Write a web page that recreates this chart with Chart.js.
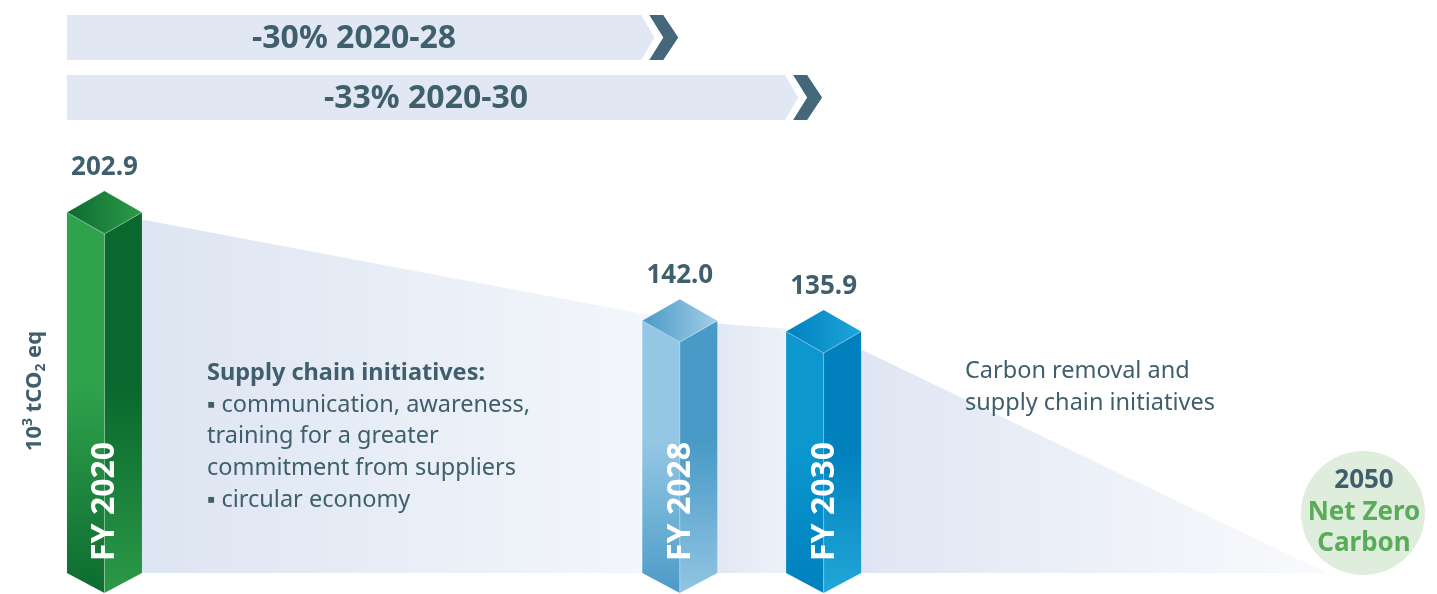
<!DOCTYPE html>
<html>
<head>
<meta charset="utf-8">
<script src="https://cdn.jsdelivr.net/npm/chart.js@4/dist/chart.umd.min.js"></script>
<style>
  body { margin: 0; background: #fff; }
  canvas { display: block; }
</style>
</head>
<body>
<canvas id="emissions" width="1437" height="594"></canvas>
<script>
// timeline slots (one per year up to 2030, then a compressed gap to 2050)
var timeline = ['2020', '2021', '2022', '2023', '2024', '2025', '2026', '2027', '2028', '2029', '2030',
                '', '', '', '', '', '', '2050'];

var pathYears = ['2020', '2028', '2030', '2050'];
var pathValues = [202.9, 142.0, 135.9, 0];

var barYears = ['2020', '2028', '2030'];
var barValues = [202.9, 142.0, 135.9];
var barLabels = ['FY 2020', 'FY 2028', 'FY 2030'];

var targetLabels = ['-30% 2020-28', '-33% 2020-30'];
var targetYears = ['2028', '2030'];

var supplyNotes = ['Supply chain initiatives:', '\u25AA communication, awareness,', 'training for a greater',
                   'commitment from suppliers', '\u25AA circular economy'];
var removalNotes = ['Carbon removal and', 'supply chain initiatives'];
var goalLines = ['2050', 'Net Zero', 'Carbon'];

var INK = '#3f5f6c';
var FONT = '"Noto Sans", "Open Sans", sans-serif';

var palettes = [
    { left: ['#30a24c', '#0d6b30'], right: ['#0a672d', '#2b9a48'], top: ['#0c6a2f', '#2c9c4a'] },
    { left: ['#93c7e3', '#4b9bc8'], right: ['#4a9ac7', '#92c5e2'], top: ['#4a9ac7', '#a3cfe6'] },
    { left: ['#0c97cf', '#0080bd'], right: ['#0080bd', '#22a7d8'], top: ['#0080bf', '#1ea6d8'] }
];

function px(chart, year) {
    return chart.scales.x.getPixelForValue(timeline.indexOf(year));
}

function fillGradient(c) {
    var chart = c.chart, a = chart.chartArea;
    if (!a) return '#e2e9f4';
    var g = chart.ctx.createLinearGradient(a.left, 0, a.right, 0);
    function stop(p, col) {
        g.addColorStop(Math.min(1, Math.max(0, (p - a.left) / (a.right - a.left))), col);
    }
    stop(px(chart, '2020') + 37, '#dde5f2');
    stop(px(chart, '2028') - 38, '#f3f6fb');
    stop(px(chart, '2028') + 38, '#e2e8f4');
    stop(px(chart, '2030') - 38, '#edf1f8');
    stop(px(chart, '2030') + 38, '#dfe6f3');
    stop(px(chart, '2050') - 30, '#f8f9fc');
    return g;
}

function drawPrism(ctx, cx, top, base, hw, pal) {
    var d = 21.5, tip = 20;
    var g;
    // left face
    g = ctx.createLinearGradient(0, top, 0, base + tip);
    g.addColorStop(0, pal.left[0]); g.addColorStop(0.45, pal.left[0]); g.addColorStop(1, pal.left[1]);
    ctx.fillStyle = g;
    ctx.beginPath();
    ctx.moveTo(cx - hw, top); ctx.lineTo(cx, top + d); ctx.lineTo(cx, base + tip); ctx.lineTo(cx - hw, base);
    ctx.closePath(); ctx.fill();
    // right face
    g = ctx.createLinearGradient(0, top, 0, base + tip);
    g.addColorStop(0, pal.right[0]); g.addColorStop(0.45, pal.right[0]); g.addColorStop(1, pal.right[1]);
    ctx.fillStyle = g;
    ctx.beginPath();
    ctx.moveTo(cx, top + d); ctx.lineTo(cx + hw, top); ctx.lineTo(cx + hw, base); ctx.lineTo(cx, base + tip);
    ctx.closePath(); ctx.fill();
    // top face
    g = ctx.createLinearGradient(cx - hw, 0, cx + hw, 0);
    g.addColorStop(0, pal.top[0]); g.addColorStop(1, pal.top[1]);
    ctx.fillStyle = g;
    ctx.beginPath();
    ctx.moveTo(cx - hw, top); ctx.lineTo(cx, top - d); ctx.lineTo(cx + hw, top); ctx.lineTo(cx, top + d);
    ctx.closePath(); ctx.fill();
    // soft highlight on front edges
    ctx.strokeStyle = 'rgba(255,255,255,0.3)';
    ctx.lineWidth = 1;
    ctx.beginPath();
    ctx.moveTo(cx - hw, top); ctx.lineTo(cx, top + d); ctx.lineTo(cx + hw, top);
    ctx.moveTo(cx, top + d); ctx.lineTo(cx, base + tip);
    ctx.stroke();
}

function drawArrow(ctx, x0, tip, yTop, yBot, label) {
    var mid = (yTop + yBot) / 2;
    ctx.fillStyle = '#e1e8f4';
    ctx.beginPath();
    ctx.moveTo(x0, yTop); ctx.lineTo(tip - 37, yTop); ctx.lineTo(tip - 24, mid);
    ctx.lineTo(tip - 37, yBot); ctx.lineTo(x0, yBot);
    ctx.closePath(); ctx.fill();
    ctx.fillStyle = '#44687a';
    ctx.beginPath();
    ctx.moveTo(tip - 29, yTop); ctx.lineTo(tip - 15, yTop); ctx.lineTo(tip, mid);
    ctx.lineTo(tip - 15, yBot); ctx.lineTo(tip - 29, yBot); ctx.lineTo(tip - 15, mid);
    ctx.closePath(); ctx.fill();
    ctx.fillStyle = INK;
    ctx.font = 'bold 32px ' + FONT;
    ctx.textAlign = 'center';
    ctx.textBaseline = 'middle';
    ctx.fillText(label, (x0 + tip - 37) / 2, mid + 1);
}

var decorations = {
    id: 'decorations',
    afterDatasetsDraw: function(chart) {
        var ctx = chart.ctx;
        ctx.save();

        // prisms + labels
        var meta = chart.getDatasetMeta(1);
        meta.data.forEach(function(bar, i) {
            var hw = bar.width / 2;
            drawPrism(ctx, bar.x, bar.y, bar.base, hw, palettes[i]);
            ctx.fillStyle = INK;
            ctx.font = 'bold 26px ' + FONT;
            ctx.textAlign = 'center';
            ctx.textBaseline = 'alphabetic';
            ctx.fillText(barValues[i].toFixed(1), bar.x, bar.y - 21.5 - 16);

            ctx.save();
            ctx.translate(bar.x + 10, bar.base - 12);
            ctx.rotate(-Math.PI / 2);
            ctx.fillStyle = '#ffffff';
            ctx.font = 'bold 32px ' + FONT;
            ctx.textAlign = 'left';
            ctx.fillText(barLabels[i], 0, 0);
            ctx.restore();
        });

        // reduction arrows
        var x0 = px(chart, '2020') - 37.5;
        targetYears.forEach(function(yr, i) {
            var top = 15 + i * 60;
            drawArrow(ctx, x0, px(chart, yr) - 1.5, top, top + 45, targetLabels[i]);
        });

        // notes
        ctx.fillStyle = INK;
        ctx.textAlign = 'left';
        ctx.textBaseline = 'alphabetic';
        supplyNotes.forEach(function(t, i) {
            ctx.font = (i === 0 ? 'bold ' : '') + '23.5px ' + FONT;
            ctx.fillText(t, 207, 380 + i * 31.7);
        });
        ctx.font = '23.5px ' + FONT;
        removalNotes.forEach(function(t, i) {
            ctx.fillText(t, 965, 378 + i * 32);
        });

        // 2050 goal badge
        ctx.fillStyle = '#dfeedc';
        ctx.beginPath();
        ctx.arc(1363, 513, 62, 0, Math.PI * 2);
        ctx.fill();
        ctx.textAlign = 'center';
        ctx.font = 'bold 26px ' + FONT;
        goalLines.forEach(function(t, i) {
            ctx.fillStyle = i === 0 ? INK : '#5aab5a';
            ctx.fillText(t, 1364, 488 + i * 31.5);
        });

        // axis title: 10^3 tCO2 eq
        ctx.save();
        ctx.translate(35, 391);
        ctx.rotate(-Math.PI / 2);
        ctx.fillStyle = INK;
        ctx.textBaseline = 'middle';
        ctx.textAlign = 'left';
        var parts = [['10', 22, 0], ['3', 14, -7], [' tCO', 22, 0], ['2', 14, 6], [' eq', 22, 0]];
        var total = 0;
        parts.forEach(function(p) { ctx.font = 'bold ' + p[1] + 'px ' + FONT; total += ctx.measureText(p[0]).width; });
        var x = -total / 2;
        parts.forEach(function(p) {
            ctx.font = 'bold ' + p[1] + 'px ' + FONT;
            ctx.fillText(p[0], x, p[2]);
            x += ctx.measureText(p[0]).width;
        });
        ctx.restore();

        ctx.restore();
    }
};

new Chart(document.getElementById('emissions').getContext('2d'), {
    type: 'bar',
    data: {
        labels: timeline,
        datasets: [{
            type: 'line',
            data: pathYears.map(function(y, i) { return { x: y, y: pathValues[i] }; }),
            fill: 'origin',
            backgroundColor: fillGradient,
            borderWidth: 0,
            pointRadius: 0,
            tension: 0,
            order: 2
        }, {
            type: 'bar',
            data: barYears.map(function(y, i) { return { x: y, y: barValues[i] }; }),
            backgroundColor: 'rgba(0,0,0,0)',
            barThickness: 75,
            order: 1
        }]
    },
    options: {
        responsive: false,
        animation: false,
        layout: { padding: { left: 68.5, right: 74, top: 182, bottom: 21 } },
        plugins: { legend: { display: false }, tooltip: { enabled: false } },
        scales: {
            x: { display: false, offset: true },
            y: { display: false, min: 0, max: 220 }
        }
    },
    plugins: [decorations]
});
</script>
</body>
</html>
